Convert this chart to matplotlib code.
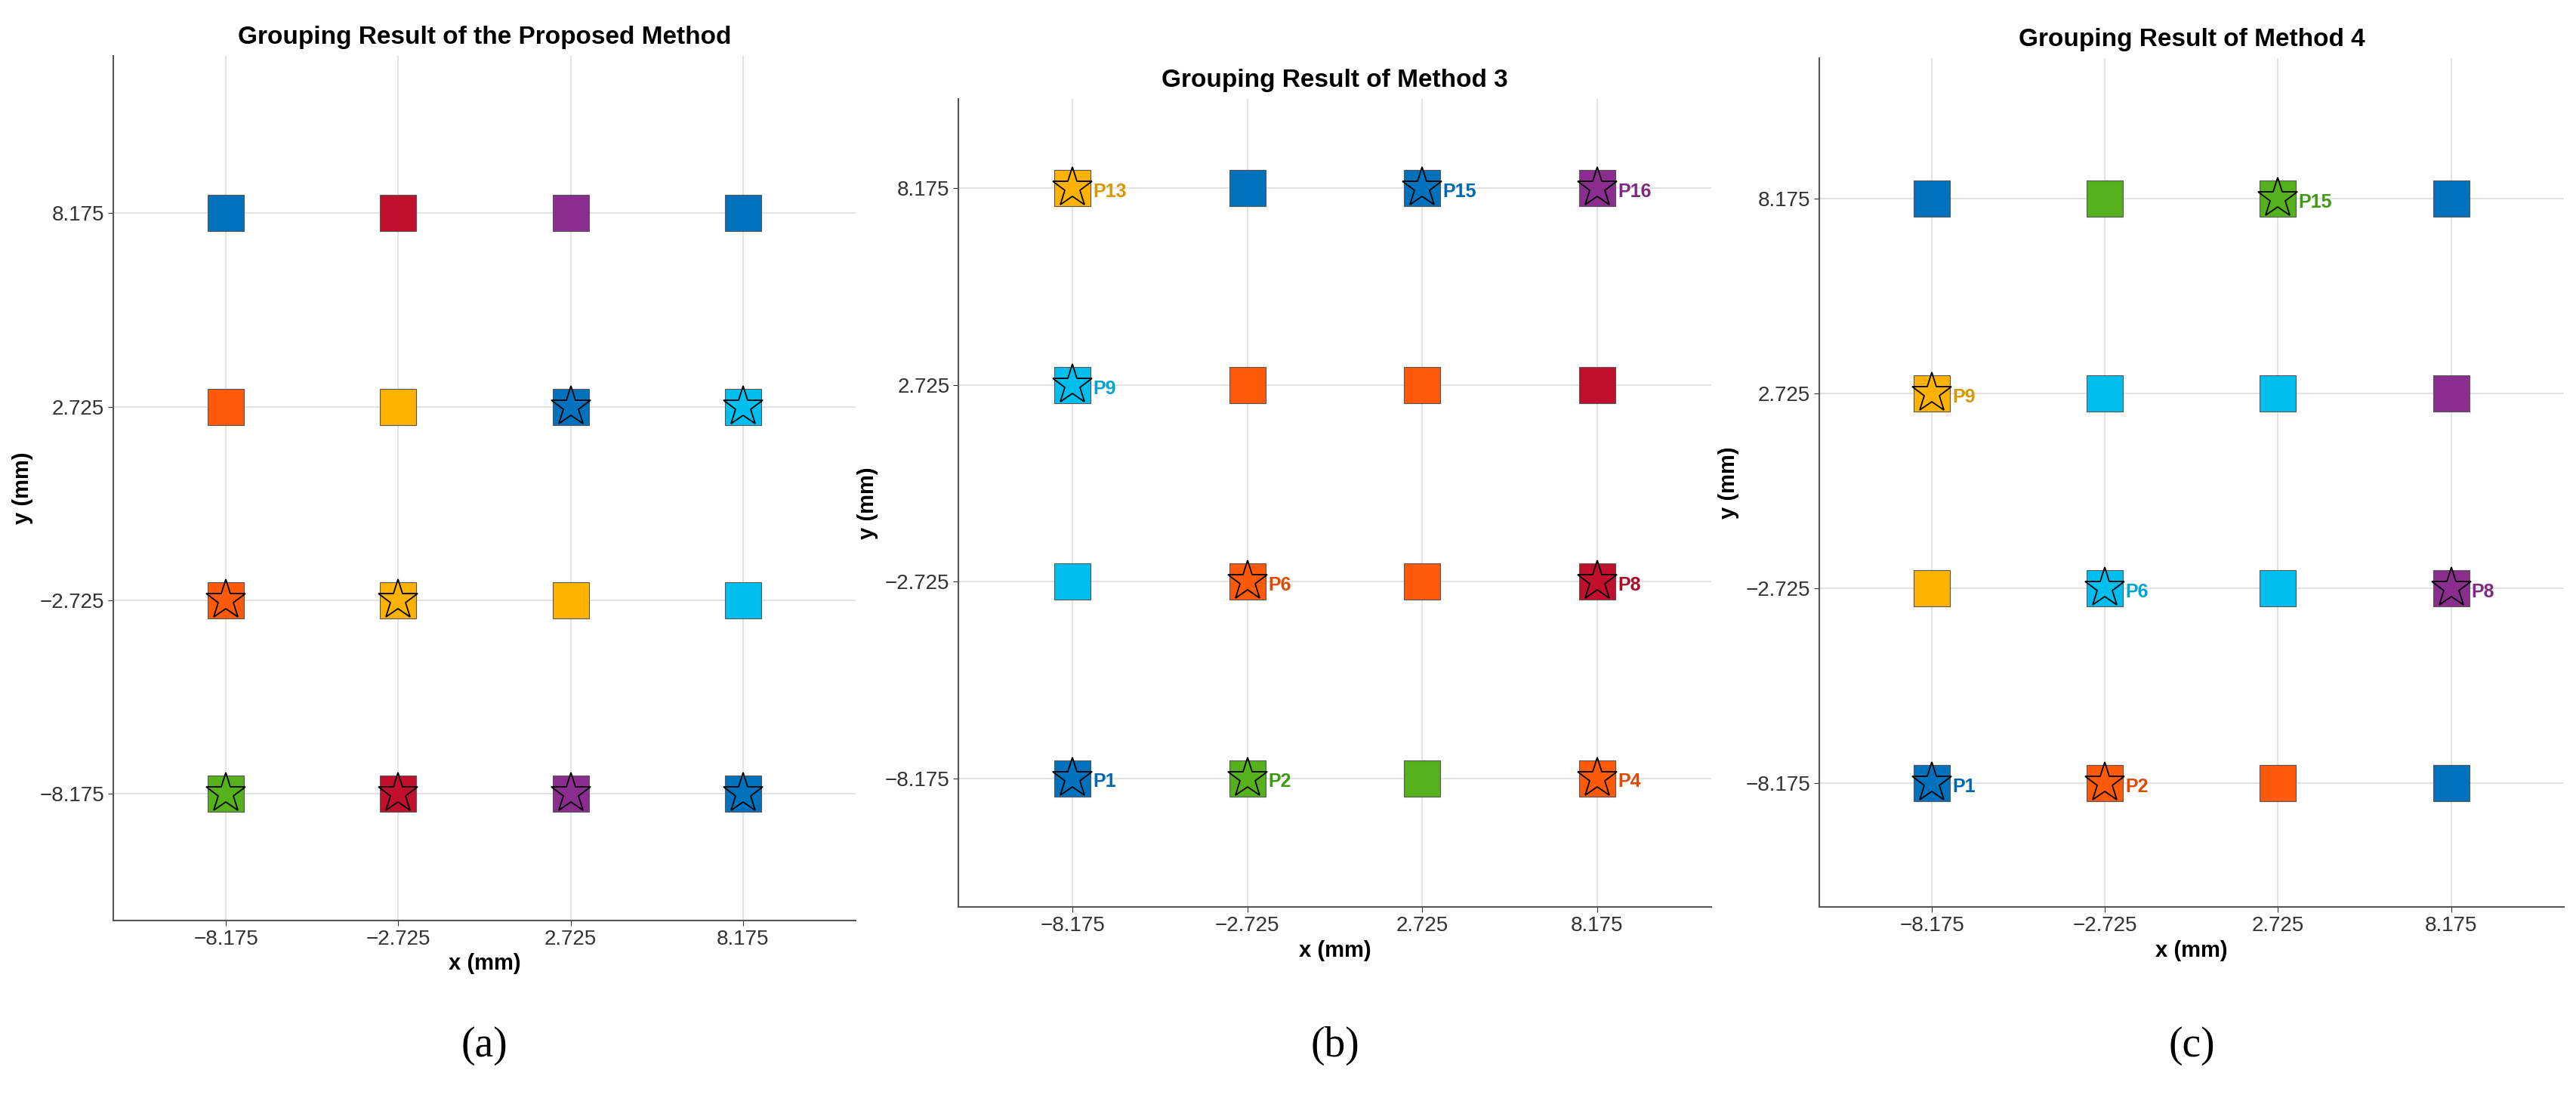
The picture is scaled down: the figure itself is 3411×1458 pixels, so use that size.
import numpy as np
import matplotlib.pyplot as plt

# Données =====================================================================
pos = [-8.175, -2.725, 2.725, 8.175]
cols = {'B': '#0072BD', 'R': '#C0102E', 'P': '#8B2C8F', 'O': '#FF5A0A',
        'Y': '#FFB300', 'C': '#00BFEF', 'G': '#55B21C'}
txtcols = {'B': '#0068B0', 'R': '#A50D28', 'P': '#7E2A84', 'O': '#E04A06',
           'Y': '#D99800', 'C': '#00A5D0', 'G': '#3F9A12'}

# grilles de couleurs, ligne du haut (y=8.175) vers le bas (y=-8.175)
grid_a = [['B', 'R', 'P', 'B'],
          ['O', 'Y', 'B', 'C'],
          ['O', 'Y', 'Y', 'C'],
          ['G', 'R', 'P', 'B']]
star_a = [[0, 0, 0, 0],
          [0, 0, 1, 1],
          [1, 1, 0, 0],
          [1, 1, 1, 1]]
lab_a = [['']*4]*4

grid_b = [['Y', 'B', 'B', 'P'],
          ['C', 'O', 'O', 'R'],
          ['C', 'O', 'O', 'R'],
          ['B', 'G', 'G', 'O']]
lab_b = [['P13', '', 'P15', 'P16'],
         ['P9', '', '', ''],
         ['', 'P6', '', 'P8'],
         ['P1', 'P2', '', 'P4']]

grid_c = [['B', 'G', 'G', 'B'],
          ['Y', 'C', 'C', 'P'],
          ['Y', 'C', 'C', 'P'],
          ['B', 'O', 'O', 'B']]
lab_c = [['', '', 'P15', ''],
         ['P9', '', '', ''],
         ['', 'P6', '', 'P8'],
         ['P1', 'P2', '', '']]

titles = ['Grouping Result of the Proposed Method', 'Grouping Result of Method 3',
          'Grouping Result of Method 4']
ylims = [(-11.74, 12.6), (-11.75, 10.65), (-11.64, 12.1)]
rects = [[0.044, 0.164, 0.288, 0.785], [0.372, 0.176, 0.292, 0.734],
         [0.706, 0.176, 0.289, 0.771]]
letters = ['(a)', '(b)', '(c)']

plt.rcParams['font.family'] = ['Liberation Sans', 'DejaVu Sans']
fig = plt.figure(figsize=(34.12, 14.58), dpi=100)

panels = [(grid_a, lab_a, star_a), (grid_b, lab_b, None), (grid_c, lab_c, None)]
for k in range(3):
  grid, lab, star = panels[k]
  ax = fig.add_axes(rects[k])
  for i in range(4):
    for j in range(4):
      x = pos[j]; y = pos[3-i]
      c = grid[i][j]
      ax.plot(x, y, 's', ms=34, mfc=cols[c], mec='#555555', mew=0.8, zorder=3)
      st = star[i][j] if star is not None else (lab[i][j] != '')
      if st:
        ax.plot(x, y, '*', ms=40, mfc='none', mec='black', mew=1.3, zorder=4)
      if lab[i][j]:
        ax.text(x+0.65, y-0.1, lab[i][j], color=txtcols[c], fontsize=18,
                fontweight='bold', va='center', ha='left', zorder=5)
  ax.set_xlim(-11.73, 11.73)
  ax.set_ylim(*ylims[k])
  ax.set_xticks(pos)
  ax.set_yticks(pos)
  ax.set_xticklabels(['\u22128.175', '\u22122.725', '2.725', '8.175'])
  ax.set_yticklabels(['\u22128.175', '\u22122.725', '2.725', '8.175'])
  ax.tick_params(labelsize=20, colors='#333333', length=5)
  ax.grid(True, color='#e3e3e3', lw=1.5)
  ax.set_axisbelow(True)
  for s in ['top', 'right']:
    ax.spines[s].set_visible(False)
  for s in ['left', 'bottom']:
    ax.spines[s].set_color('#555555')
    ax.spines[s].set_linewidth(1.5)
  ax.set_xlabel('x (mm)', fontsize=21, fontweight='bold', labelpad=4)
  ax.set_ylabel('y (mm)', fontsize=21, fontweight='bold', labelpad=6)
  ax.set_title(titles[k], fontsize=24, fontweight='bold', pad=12)
  fig.text(rects[k][0]+rects[k][2]/2, 0.05, letters[k], fontsize=40,
           family='Liberation Serif', ha='center', va='center')

fig.savefig('out.png', dpi=100)
